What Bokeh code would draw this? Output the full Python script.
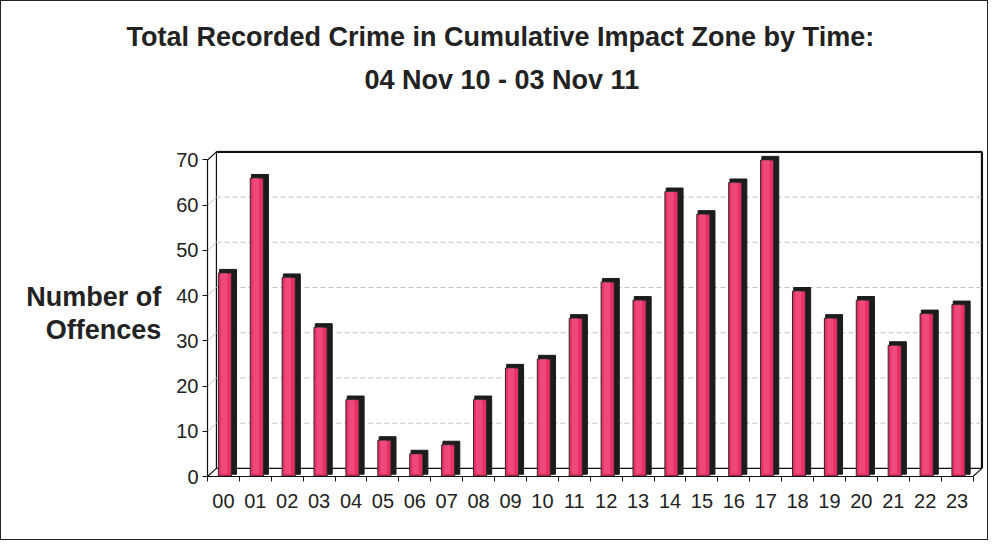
from bokeh.plotting import figure
from bokeh.models import FixedTicker, Title, Range1d, ColumnDataSource
from bokeh.embed import file_html
from bokeh.resources import INLINE

# ---- data ----
hours = ["00", "01", "02", "03", "04", "05", "06", "07", "08", "09", "10", "11",
         "12", "13", "14", "15", "16", "17", "18", "19", "20", "21", "22", "23"]
offences = [45, 66, 44, 33, 17, 8, 5, 7, 17, 24, 26, 35,
            43, 39, 63, 58, 65, 70, 41, 35, 39, 29, 36, 38]
y_ticks = [0, 10, 20, 30, 40, 50, 60, 70]
title_line1 = "Total Recorded Crime in Cumulative Impact Zone by Time:"
title_line2 = "04 Nov 10 - 03 Nov 11"
y_label = "Number of\nOffences"

FONT = "Liberation Sans"
n = len(hours)
ymax = max(y_ticks)
dx, dy = 0.28, 1.8  # 3-D depth of the chart walls (data units)

p = figure(width=988, height=540, output_backend="svg", toolbar_location=None,
           x_range=Range1d(-0.5, n - 0.5 + dx + 0.08), y_range=Range1d(0, ymax + dy + 0.3),
           min_border_left=206, min_border_right=5, min_border_bottom=65, min_border_top=10)
p.styles = {"border": "1px solid #222"}
p.outline_line_color = None
p.xgrid.visible = False
p.ygrid.visible = False
p.background_fill_color = "white"
p.border_fill_color = "white"

# titles (stacked from the plot outwards)
spacer_low = Title(text=" ", text_font=FONT, text_font_size="10px", standoff=43)
t2 = Title(text=title_line2, align="left", offset=157, text_font=FONT, text_font_size="27px",
           text_font_style="bold", text_color="#222222", standoff=0)
t1 = Title(text=title_line1, align="left", offset=-81, text_font=FONT, text_font_size="27px",
           text_font_style="bold", text_color="#222222", standoff=22)
spacer_top = Title(text=" ", text_font=FONT, text_font_size="4px", standoff=0)
for t in (spacer_low, t2, t1, spacer_top):
    p.add_layout(t, "above")

# ---- walls / floor ----
xl, xr = -0.5, n - 0.5
wall = dict(line_color="#111111", line_width=1.2)
p.segment(x0=[xl + dx, xl + dx, xr + dx, xl + dx, xl, xl, xr],
          y0=[dy, ymax + dy, dy, dy, 0, ymax, 0],
          x1=[xl + dx, xr + dx, xr + dx, xr + dx, xl + dx, xl + dx, xr + dx],
          y1=[ymax + dy, ymax + dy, ymax + dy, dy, dy, ymax + dy, dy], **wall)
p.segment(x0=[xl + dx, xr + dx], y0=[ymax + dy] * 2, x1=[xr + dx, xr + dx], y1=[ymax + dy, dy],
          line_color="#111111", line_width=2.2)
# grid lines on back wall
g = y_ticks[1:-1]
p.segment(x0=[xl + dx] * len(g), y0=[v + dy for v in g], x1=[xr + dx] * len(g), y1=[v + dy for v in g],
          line_color="#c4c4c4", line_dash="5 3", line_width=1)
p.segment(x0=[xl] * len(g), y0=g, x1=[xl + dx] * len(g), y1=[v + dy for v in g],
          line_color="#c4c4c4", line_width=1)

# ---- bars ----
xs = list(range(n))
src = ColumnDataSource(dict(
    x=xs, v=offences,
    sl=[x - 0.12 for x in xs], sr=[x + 0.41 for x in xs], st=[v + 0.8 for v in offences],
    fl=[x - 0.16 for x in xs], fr=[x + 0.25 for x in xs],
    hl=[x - 0.08 for x in xs], hr=[x + 0.12 for x in xs],
))
p.quad(left="sl", right="sr", bottom=0.5, top="st", source=src, fill_color="#1c1c1c", line_color="#1c1c1c")
p.quad(left="fl", right="fr", bottom=0.1, top="v", source=src, fill_color="#EA2F66",
       line_color="#2a2a2a", line_width=1)
p.quad(left="hl", right="hr", bottom=0.6, top="v", source=src, fill_color="#F2648C",
       fill_alpha=0.5, line_color=None)

# ---- axes ----
p.xaxis.ticker = FixedTicker(ticks=xs, minor_ticks=[x - 0.5 for x in xs] + [n - 0.5])
p.xaxis.major_label_overrides = {i: h for i, h in enumerate(hours)}
p.xaxis.bounds = (xl, xr)
p.xaxis.major_tick_line_color = None
p.xaxis.major_tick_out = 0
p.xaxis.minor_tick_out = 5
p.xaxis.minor_tick_in = 0
p.xaxis.minor_tick_line_color = "#111111"
p.xaxis.axis_line_color = "#111111"
p.xaxis.axis_line_width = 1.2
p.xaxis.major_label_standoff = 12
p.xaxis.major_label_text_font = FONT
p.xaxis.major_label_text_font_size = "20px"
p.xaxis.major_label_text_color = "#222222"

p.yaxis.ticker = FixedTicker(ticks=y_ticks, minor_ticks=[])
p.yaxis.bounds = (0, ymax)
p.yaxis.major_tick_out = 5
p.yaxis.major_tick_in = 0
p.yaxis.major_tick_line_color = "#111111"
p.yaxis.axis_line_color = "#111111"
p.yaxis.axis_line_width = 1.2
p.yaxis.major_label_standoff = 4
p.yaxis.major_label_text_font = FONT
p.yaxis.major_label_text_font_size = "20px"
p.yaxis.major_label_text_color = "#222222"
p.yaxis.axis_label = y_label
p.yaxis.axis_label_orientation = "horizontal"
p.yaxis.axis_label_text_font = FONT
p.yaxis.axis_label_text_font_size = "27px"
p.yaxis.axis_label_text_font_style = "bold"
p.yaxis.axis_label_text_color = "#222222"
p.yaxis.axis_label_text_line_height = 1.1
p.yaxis.axis_label_standoff = 12
p.yaxis.axis_label_text_align = "center"

open("out.html", "w").write(file_html(p, INLINE))
